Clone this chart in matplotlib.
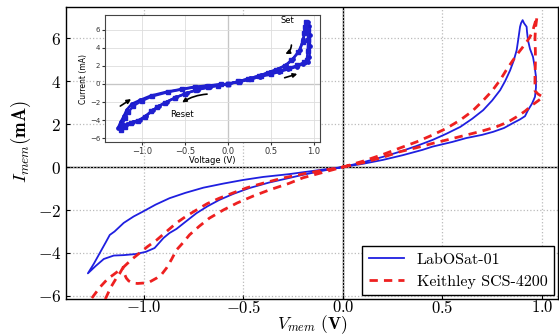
import matplotlib
matplotlib.use("Agg")
import matplotlib.pyplot as plt

plt.rcParams['font.family'] = ['cmr10']
plt.rcParams['mathtext.fontset'] = 'cm'
plt.rcParams['axes.formatter.use_mathtext'] = True
plt.rcParams['axes.unicode_minus'] = True

# main plot: LabOSat-01 (blue, solid)
v_lab = [0.0, 0.1, 0.2, 0.3, 0.4, 0.45, 0.55, 0.62, 0.7, 0.755, 0.81, 0.855, 0.89, 0.915,
         0.93, 0.95, 0.965, 0.97, 0.97, 0.963, 0.955, 0.94, 0.93, 0.925, 0.923, 0.91, 0.903,
         0.895, 0.89, 0.882, 0.873, 0.858, 0.84, 0.815, 0.79, 0.75, 0.705, 0.65, 0.59, 0.52,
         0.45, 0.37, 0.285, 0.2, 0.1, 0.0,
         -0.1, -0.2, -0.27, -0.37, -0.47, -0.55, -0.62, -0.68, -0.735, -0.79, -0.835, -0.87,
         -0.9, -0.945, -0.99, -1.04, -1.1, -1.15, -1.2, -1.24, -1.28,
         -1.25, -1.22, -1.19, -1.17, -1.146, -1.1, -1.05, -1.005, -0.94, -0.87, -0.79, -0.70,
         -0.6, -0.5, -0.4, -0.27, -0.15, 0.0]
i_lab = [0.0, 0.15, 0.33, 0.55, 0.8, 0.95, 1.17, 1.35, 1.5, 1.64, 1.82, 2.05, 2.22, 2.37,
         2.65, 2.95, 3.27, 3.7, 4.2, 4.7, 5.13, 5.5, 5.9, 6.3, 6.53, 6.7, 6.84,
         6.7, 6.53, 6.0, 5.44, 4.95, 4.5, 4.0, 3.58, 3.1, 2.65, 2.25, 1.87, 1.55,
         1.26, 0.98, 0.71, 0.47, 0.22, 0.0,
         -0.17, -0.36, -0.51, -0.72, -0.98, -1.25, -1.53, -1.83, -2.15, -2.55, -2.88, -3.07,
         -3.3, -3.77, -3.95, -4.05, -4.1, -4.12, -4.28, -4.6, -4.95,
         -4.5, -4.0, -3.5, -3.16, -3.0, -2.6, -2.3, -2.08, -1.75, -1.45, -1.2, -0.96,
         -0.77, -0.6, -0.46, -0.33, -0.18, 0.0]

# main plot: Keithley SCS-4200 (red, dashed)
v_kei = [0.0, 0.1, 0.2, 0.285, 0.37, 0.45, 0.53, 0.62, 0.7, 0.77, 0.83, 0.873, 0.915, 0.95,
         0.98, 1.005, 0.98, 0.965, 0.965, 0.967, 0.967, 0.965, 0.968, 0.975,
         0.96, 0.955, 0.94, 0.925, 0.905, 0.88, 0.855, 0.82, 0.79, 0.75, 0.705, 0.65, 0.59,
         0.52, 0.45, 0.37, 0.285, 0.2, 0.1, 0.0,
         -0.12, -0.2, -0.27, -0.37, -0.45, -0.53, -0.6, -0.67, -0.72, -0.77, -0.8, -0.835,
         -0.86, -0.885, -0.91, -0.935, -0.97, -1.0, -1.03, -1.055, -1.075, -1.087, -1.1,
         -1.105, -1.12, -1.137, -1.165, -1.19, -1.22, -1.25,
         -1.3, -1.26, -1.22, -1.18, -1.15, -1.1, -1.06, -1.02, -0.98, -0.935, -0.885, -0.835,
         -0.785, -0.735, -0.68, -0.62, -0.55, -0.48, -0.4, -0.3, -0.2, -0.1, 0.0]
i_kei = [0.0, 0.2, 0.45, 0.71, 0.9, 1.1, 1.28, 1.49, 1.68, 1.87, 2.1, 2.34, 2.6, 2.88,
         3.08, 3.26, 3.4, 3.55, 4.2, 4.8, 5.4, 6.0, 6.5, 7.0,
         6.55, 6.37, 6.06, 5.85, 5.6, 5.3, 4.98, 4.5, 4.05, 3.55, 3.1, 2.6, 2.19,
         1.8, 1.49, 1.17, 0.88, 0.58, 0.27, 0.0,
         -0.3, -0.5, -0.76, -1.07, -1.35, -1.67, -2.0, -2.38, -2.75, -3.16, -3.5, -3.86,
         -4.3, -4.7, -5.0, -5.17, -5.35, -5.4, -5.42, -5.4, -5.3, -5.17, -4.9,
         -4.7, -4.95, -5.17, -5.6, -6.1, -6.6, -7.0,
         -6.8, -6.1, -5.6, -5.2, -5.0, -4.65, -4.3, -4.0, -3.7, -3.4, -3.0, -2.6,
         -2.28, -2.0, -1.7, -1.45, -1.2, -0.96, -0.75, -0.51, -0.32, -0.15, 0.0]

# inset: two measured cycles
v_in1 = [0.0, 0.14, 0.26, 0.37, 0.49, 0.6, 0.7, 0.8, 0.88, 0.93, 0.95, 0.955, 0.955, 0.95,
         0.93, 0.92, 0.9, 0.88, 0.84, 0.76, 0.68, 0.58, 0.49, 0.38, 0.26, 0.13, 0.0,
         -0.1, -0.21, -0.35, -0.48, -0.6, -0.71, -0.8, -0.87, -0.95, -1.02, -1.1, -1.18, -1.24,
         -1.28, -1.25, -1.21, -1.18, -1.12, -1.02, -0.9, -0.71, -0.55, -0.4, -0.25, -0.09, 0.0]
i_in1 = [0.0, 0.25, 0.5, 0.8, 1.05, 1.35, 1.62, 1.9, 2.25, 2.46, 3.0, 4.2, 5.4, 6.4,
         6.86, 6.5, 5.95, 5.0, 3.74, 2.8, 2.1, 1.65, 1.35, 0.95, 0.63, 0.3, 0.0,
         -0.15, -0.33, -0.62, -1.0, -1.45, -1.95, -2.4, -2.86, -3.5, -3.96, -4.15, -4.45, -4.75,
         -4.85, -4.2, -3.5, -2.86, -2.2, -1.76, -1.3, -0.85, -0.58, -0.33, -0.18, -0.05, 0.0]
v_in2 = [0.0, 0.13, 0.27, 0.39, 0.5, 0.61, 0.71, 0.81, 0.89, 0.92, 0.93, 0.935, 0.93,
         0.915, 0.9, 0.89, 0.87, 0.82, 0.74, 0.66, 0.56, 0.47, 0.36, 0.24, 0.12, 0.0,
         -0.11, -0.23, -0.37, -0.5, -0.62, -0.73, -0.82, -0.89, -0.97, -1.05, -1.13, -1.2, -1.25,
         -1.23, -1.2, -1.16, -1.1, -1.0, -0.88, -0.7, -0.54, -0.38, -0.23, -0.08, 0.0]
i_in2 = [0.0, 0.27, 0.56, 0.88, 1.15, 1.45, 1.75, 2.05, 2.4, 2.7, 3.6, 4.8, 6.0,
         6.8, 6.3, 5.6, 4.6, 3.5, 2.6, 2.0, 1.55, 1.25, 0.9, 0.58, 0.28, 0.0,
         -0.17, -0.36, -0.68, -1.08, -1.55, -2.05, -2.55, -3.0, -3.6, -4.05, -4.3, -4.7, -5.05,
         -4.5, -3.8, -3.1, -2.4, -1.85, -1.35, -0.9, -0.6, -0.35, -0.2, -0.05, 0.0]

main_xticks = [-1.0, -0.5, 0.0, 0.5, 1.0]
main_yticks = [-6, -4, -2, 0, 2, 4, 6]
in_xticks = [-1.0, -0.5, 0.0, 0.5, 1.0]
in_yticks = [-6, -4, -2, 0, 2, 4, 6]

fig = plt.figure(figsize=(5.59, 3.35), dpi=100)
ax = fig.add_axes([0.118, 0.107, 0.88, 0.872])

ax.axhline(0, color='black', lw=1.0, zorder=1)
ax.axvline(0, color='black', lw=1.0, zorder=1)
ax.plot(v_lab, i_lab, color='#1f1fe0', lw=1.3, label='LabOSat-01', zorder=3)
ax.plot(v_kei, i_kei, color='#ee2020', lw=2.0, ls=(0, (3, 2.2)), label='Keithley SCS-4200', zorder=3)

ax.set_xlim(-1.39, 1.08)
ax.set_ylim(-6.15, 7.45)
ax.set_xticks(main_xticks)
ax.set_yticks(main_yticks)
ax.grid(True, ls=':', color='#bbbbbb', lw=0.9)
ax.tick_params(labelsize=12.5, direction='in', length=3)
ax.tick_params(axis='x', pad=0, labelsize=12)
for s in ax.spines.values():
    s.set_linewidth(1.0)
ax.set_xlabel(r'$V_{mem}$ $\mathbf{(V)}$', fontsize=12.5)
ax.xaxis.set_label_coords(0.502, -0.125)
ax.xaxis.label.set_va('bottom')
ax.set_ylabel(r'$I_{mem}\mathbf{(mA)}$', fontsize=13.5)
ax.yaxis.set_label_coords(-0.092, 0.541)
ax.yaxis.label.set_va('center')

leg = ax.legend(loc='lower right', fontsize=11.5, fancybox=False, framealpha=1,
                edgecolor='black', borderaxespad=0.25, handlelength=2.2)
leg.get_frame().set_linewidth(1.0)

# inset
axi = fig.add_axes([0.188, 0.576, 0.384, 0.379])
axi.axhline(0, color='#555555', lw=0.8, zorder=1)
axi.axvline(0, color='#555555', lw=0.8, zorder=1)
axi.plot(v_in1, i_in1, color='#1a1acc', lw=1.8, marker='o', ms=2.4, zorder=3)
axi.plot(v_in2, i_in2, color='#2020d0', lw=1.8, marker='s', ms=2.2, zorder=3)
axi.set_xlim(-1.43, 1.07)
axi.set_ylim(-6.4, 7.6)
axi.set_xticks(in_xticks)
axi.set_xticklabels(['\u22121.0', '\u22120.5', '0.0', '0.5', '1.0'], family='DejaVu Sans', fontsize=6)
axi.set_yticks(in_yticks)
axi.set_yticklabels(['\u22126', '\u22124', '\u22122', '0', '2', '4', '6'], family='DejaVu Sans', fontsize=5)
axi.tick_params(length=2, pad=1.5, colors='#333333')
axi.grid(True, color='#dddddd', lw=0.6)
for s in axi.spines.values():
    s.set_color('#444444')
    s.set_linewidth(0.8)
axi.set_xlabel('Voltage (V)', family='DejaVu Sans', fontsize=6, labelpad=0)
axi.set_ylabel('Current (mA)', family='DejaVu Sans', fontsize=5.5, labelpad=1)

axi.text(0.69, 7.0, 'Set', family='DejaVu Sans', fontsize=6, ha='center', va='center')
axi.text(-0.53, -3.4, 'Reset', family='DejaVu Sans', fontsize=6, ha='center', va='center')
ak = dict(arrowstyle='-|>', color='black', lw=1.2, mutation_scale=6)
axi.annotate('', xy=(0.64, 3.2), xytext=(0.74, 4.6),
             arrowprops=dict(ak, connectionstyle='arc3,rad=-0.4'))
axi.annotate('', xy=(0.84, 1.2), xytext=(0.63, 0.6), arrowprops=ak)
axi.annotate('', xy=(-1.1, -1.5), xytext=(-1.28, -2.6), arrowprops=ak)
axi.annotate('', xy=(-0.56, -2.2), xytext=(-0.21, -1.1),
             arrowprops=dict(ak, connectionstyle='arc3,rad=0.15'))

fig.savefig('out.png', dpi=100)
